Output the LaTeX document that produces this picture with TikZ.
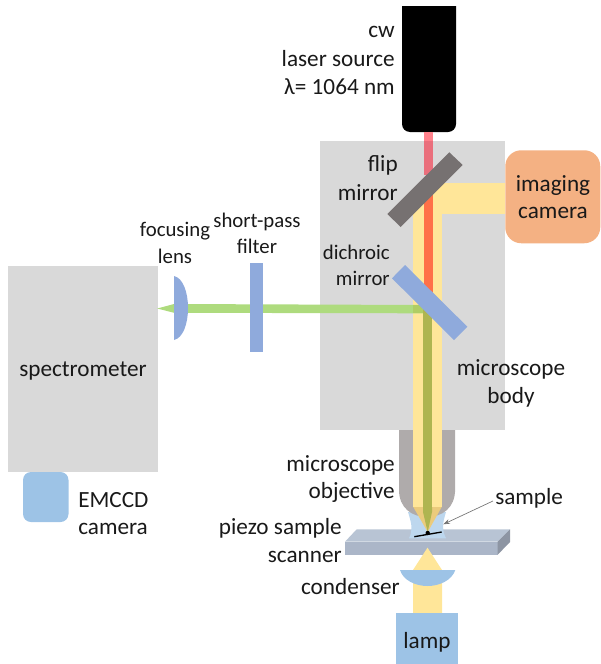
\documentclass[tikz,border=0pt]{standalone}
\usepackage{fontspec}
\setmainfont{Carlito}
\usetikzlibrary{arrows.meta}
\definecolor{bodygray}{HTML}{D9D9D9}
\definecolor{objgray}{HTML}{AFABAB}
\definecolor{mirgray}{HTML}{767171}
\definecolor{beamyellow}{HTML}{FFE699}
\definecolor{conefill}{HTML}{EBCB7C}
\definecolor{beamgreen}{HTML}{AEDB7E}
\definecolor{beamolive}{HTML}{AFB550}
\definecolor{beamred}{HTML}{FF7048}
\definecolor{beamtop}{HTML}{EA6F7C}
\definecolor{optblue}{HTML}{8FAADC}
\definecolor{lampblue}{HTML}{9DC3E6}
\definecolor{dropblue}{HTML}{BDD7EE}
\definecolor{camorange}{HTML}{F4B183}
\tikzset{
  x=0.75pt,y=-0.75pt,
  lbl/.style={font=\fontsize{17.4}{17.4}\selectfont,inner sep=0pt,text=black!90,yshift=-1.1pt},
  lblsmall/.style={font=\fontsize{15.6}{15.6}\selectfont,inner sep=0pt,text=black!90,yshift=-1.1pt},
}
\begin{document}
\begin{tikzpicture}
\useasboundingbox (0,0) rectangle (600,664);
% spectrometer and camera
\fill[lampblue,rounded corners=6pt] (23,472) rectangle (68.5,522);
\fill[bodygray] (8,266) rectangle (158,472);
% microscope body
\fill[bodygray] (320,141) rectangle (505,430);
% stage
\fill[fill={rgb,255:red,184;green,196;blue,212}] (345,541.7) -- (356.7,529.3) -- (510,529.3) -- (497.7,541.7) -- cycle;
\fill[fill={rgb,255:red,171;green,182;blue,200}] (345,541.7) rectangle (497.7,554.7);
\fill[fill={rgb,255:red,141;green,149;blue,163}] (497.7,541.7) -- (510,529.3) -- (510,542) -- (497.7,554.7) -- cycle;
% droplet
\fill[dropblue] (408,512) .. controls (412,525) and (413,530) .. (409,538.3) -- (446,538.3) .. controls (442,530) and (442,525) .. (446,512) -- cycle;
% objective
\fill[objgray] (399,430) rectangle (455,492) (399,490) .. controls (399,508) and (412,517) .. (427,517) .. controls (442,517) and (455,508) .. (455,490) -- cycle;
% laser
\fill[black] (402,6) -- (456,6) -- (456,124) arc[start angle=0,end angle=90,radius=8] -- (410,132) arc[start angle=90,end angle=180,radius=8] -- cycle;
% beams
\fill[beamtop] (424,141) rectangle (432.5,175);
\fill[fill={rgb,255:red,255;green,130;blue,140}] (424,132) rectangle (432.5,141);
\fill[beamyellow] (430,183.3) rectangle (505,213.7);
\fill[beamyellow] (413.3,190) rectangle (441.7,507);
\fill[beamred] (424,190) rectangle (432.5,300);
\fill[beamgreen] (157.3,308.5) -- (174,304) -- (425,305) -- (425,313.3) -- (174,312.8) -- cycle;
\fill[fill={rgb,255:red,176;green,205;blue,100}] (413.3,305) rectangle (430,313.3);
\fill[beamolive] (423,300) rectangle (432,507);
\fill[conefill] (413.3,507) -- (441.7,507) -- (427.7,532) -- cycle;
\fill[beamolive] (423,507) -- (432,507) -- (432,512) -- (427.7,532) -- (423,512) -- cycle;
% mirrors
\fill[mirgray] (449.3,152.3) -- (462.7,165) -- (400.7,227) -- (387.3,214) -- cycle;
\fill[optblue] (405,265) -- (467.3,326.7) -- (454,340) -- (392,278.3) -- cycle;
% lens and filter
\fill[optblue] (174,276) .. controls (183,278) and (188,292) .. (188,308) .. controls (188,324) and (183,338) .. (174,340) -- cycle;
\fill[optblue] (250,263) rectangle (263,352);
% sample
\draw[black,line width=1pt] (414.3,536.7) -- (441.7,532);
\fill[black] (427.7,533) circle[radius=2.2];
% lamp side
\fill[beamyellow] (413,613) -- (413,570) -- (427.5,547.7) -- (442,570) -- (442,613) -- cycle;
\fill[lampblue] (400,570) -- (455.3,570) .. controls (452,580) and (440,586) .. (427.5,586) .. controls (415,586) and (403,580) .. (400,570) -- cycle;
\fill[lampblue] (396,613) rectangle (458,664);
% imaging camera
\node[fill=camorange,rounded corners=12pt,minimum width=71.25pt,minimum height=69.75pt,inner sep=0pt,anchor=north west] (cam) at (505,150) {};
% labels
\node[lbl,anchor=east] (lcw) at (395,30) {cw};
\node[lbl,anchor=east] (lsrc) at (395,57) {laser source};
\node[lbl,anchor=east] (lnm) at (395,85) {λ= 1064 nm};
\node[lbl,anchor=east] (lflip) at (398,164) {flip};
\node[lbl,anchor=east] (lmir) at (398,191) {mirror};
\node[lbl] (lcam1) at (553,184) {imaging};
\node[lbl] (lcam2) at (553,211) {camera};
\node[lblsmall,anchor=east] (ldi) at (390,251) {dichroic};
\node[lblsmall,anchor=east] (ldm) at (390,277) {mirror};
\node[lblsmall] (lf1) at (175,230) {focusing};
\node[lblsmall] (lf2) at (175,255) {lens};
\node[lblsmall] (ls1) at (257,220) {short-pass};
\node[lblsmall] (ls2) at (257,245) {filter};
\node[lbl] (lspec) at (83,370) {spectrometer};
\node[lbl] (lb1) at (511,368) {microscope};
\node[lbl] (lb2) at (511,396) {body};
\node[lbl,anchor=east] (lo1) at (395,464) {microscope};
\node[lbl,anchor=east] (lo2) at (395,491) {objective};
\node[lbl,anchor=west] (lsamp) at (495,497) {sample};
\node[lbl,anchor=east] (lp1) at (342,527) {piezo sample};
\node[lbl,anchor=east] (lp2) at (342,555) {scanner};
\node[lbl,anchor=east] (lcond) at (400,585) {condenser};
\node[lbl] (llamp) at (427,641) {lamp};
\node[lbl,anchor=west] (le1) at (78,499) {EMCCD};
\node[lbl,anchor=west] (le2) at (78,527) {camera};
\coordinate (samptip) at (443.3,524.3);
\draw[-{Stealth[length=5pt,width=3.5pt]},draw=black!55,line width=0.5pt] (lsamp.west) ++(-2,2.5) -- (samptip);
\end{tikzpicture}
\end{document}
